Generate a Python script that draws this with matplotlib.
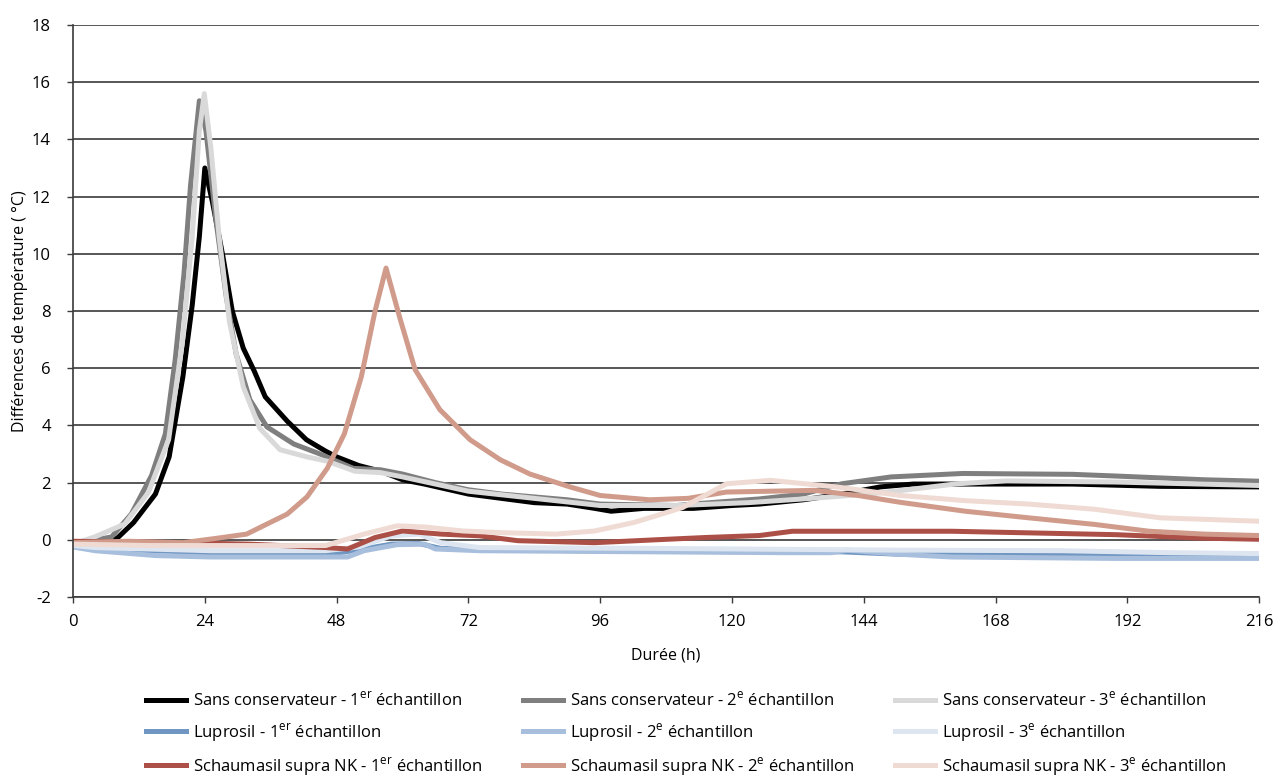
import matplotlib
matplotlib.use("Agg")
import matplotlib.pyplot as plt

# values (hours, degrees C)
t_s1 = [0, 4, 8, 11, 15, 17.5, 20, 21.7, 23, 24, 25.4, 27.3, 29, 31, 33, 35, 39, 42.5, 46, 48, 52, 56, 60, 64,
        72, 78, 84, 90, 95, 98, 104, 113, 120, 125, 133, 140, 147, 153, 168, 182, 198, 216]
v_s1 = [-0.1, -0.1, 0.05, 0.6, 1.6, 2.9, 5.7, 8.2, 10.6, 13.0, 11.8, 9.9, 8.0, 6.7, 5.9, 5.0, 4.15, 3.5, 3.1, 2.9,
        2.6, 2.4, 2.1, 1.95, 1.6, 1.45, 1.3, 1.25, 1.1, 1.0, 1.1, 1.1, 1.2, 1.25, 1.4, 1.6, 1.85, 1.95, 1.95, 1.95,
        1.87, 1.85]

t_s2 = [0, 4, 7, 10.6, 14.3, 16.8, 18.6, 20.2, 21.4, 23, 24.2, 26, 27.9, 29.7, 32.2, 35.3, 40.2, 45, 51, 56, 60,
        66, 72, 78, 84, 90, 96, 110, 114, 125, 133, 140, 149, 162, 182, 190, 206, 216]
v_s2 = [-0.1, 0.0, 0.1, 0.9, 2.25, 3.7, 6.3, 9.3, 12.4, 15.35, 14.3, 11.2, 8.5, 6.5, 4.9, 3.95, 3.35, 3.0, 2.5,
        2.45, 2.3, 2.0, 1.75, 1.6, 1.5, 1.4, 1.25, 1.2, 1.27, 1.43, 1.6, 1.96, 2.2, 2.32, 2.29, 2.23, 2.1, 2.05]

t_s3 = [0, 3.9, 9.4, 13.7, 17.4, 19.9, 21.7, 23, 23.9, 25.1, 26.6, 28.5, 31, 34, 37.7, 42.6, 46.3, 51.3, 56, 60,
        72, 84, 96, 110, 123, 133, 145, 151, 161, 170, 190, 216]
v_s3 = [-0.15, 0.1, 0.55, 1.65, 3.5, 6.9, 10.6, 14.3, 15.6, 13.7, 10.6, 7.6, 5.35, 3.9, 3.15, 2.9, 2.75, 2.4, 2.35,
        2.2, 1.7, 1.45, 1.2, 1.2, 1.3, 1.43, 1.6, 1.73, 1.96, 2.06, 2.02, 1.9]

t_l1 = [0, 10, 25, 45, 52, 58, 63, 67, 80, 100, 140, 150, 190, 216]
v_l1 = [-0.2, -0.35, -0.45, -0.55, -0.35, -0.15, -0.13, -0.3, -0.35, -0.4, -0.42, -0.5, -0.55, -0.6]

t_l2 = [0, 4, 15, 25, 40, 50, 53, 59, 64, 66, 74, 106, 130, 138, 141, 150, 160, 190, 216]
v_l2 = [-0.25, -0.38, -0.55, -0.6, -0.6, -0.6, -0.38, -0.17, -0.15, -0.32, -0.38, -0.42, -0.45, -0.45, -0.36,
        -0.5, -0.6, -0.65, -0.65]

t_l3 = [0, 4, 25, 46, 52, 58, 63, 67, 74, 106, 150, 180, 200, 216]
v_l3 = [-0.2, -0.27, -0.38, -0.38, -0.25, 0.14, 0.2, -0.1, -0.27, -0.3, -0.36, -0.38, -0.45, -0.48]

t_n1 = [0, 20, 32, 46, 50, 55, 60, 67, 74, 81, 95, 106, 115, 125, 131, 160, 190, 205, 216]
v_n1 = [-0.05, -0.1, -0.15, -0.27, -0.32, 0.08, 0.31, 0.2, 0.14, -0.03, -0.1, 0.0, 0.08, 0.15, 0.3, 0.3, 0.18,
        0.06, 0.02]

t_n2 = [0, 10, 20, 26, 31.6, 35.3, 39, 42.6, 46.3, 49.4, 52.5, 55, 57, 59.6, 62.3, 66.8, 72.3, 77.8, 83.2, 90.5,
        96, 105, 112, 119, 135, 143, 150.7, 162.5, 174, 186, 196, 206, 216]
v_n2 = [-0.1, -0.05, -0.1, 0.05, 0.2, 0.55, 0.9, 1.5, 2.5, 3.7, 5.7, 8.0, 9.5, 7.7, 5.95, 4.55, 3.5, 2.8, 2.3,
        1.85, 1.55, 1.4, 1.45, 1.67, 1.73, 1.55, 1.31, 1.0, 0.77, 0.54, 0.3, 0.2, 0.15]

t_n3 = [0, 14, 46, 53, 59, 64, 71, 78, 88, 95, 102, 106, 111, 119, 127, 139, 150.7, 162.5, 174, 186, 198, 216]
v_n3 = [-0.15, -0.2, -0.2, 0.2, 0.49, 0.45, 0.31, 0.25, 0.2, 0.31, 0.6, 0.83, 1.13, 1.96, 2.08, 1.85, 1.55, 1.37,
        1.25, 1.07, 0.77, 0.65]

sup1 = r"$^{\mathregular{er}}$"
sup2 = r"$^{\mathregular{e}}$"
labels = [
    "Sans conservateur - 1" + sup1 + " échantillon",
    "Sans conservateur - 2" + sup2 + " échantillon",
    "Sans conservateur - 3" + sup2 + " échantillon",
    "Luprosil - 1" + sup1 + " échantillon",
    "Luprosil - 2" + sup2 + " échantillon",
    "Luprosil - 3" + sup2 + " échantillon",
    "Schaumasil supra NK - 1" + sup1 + " échantillon",
    "Schaumasil supra NK - 2" + sup2 + " échantillon",
    "Schaumasil supra NK - 3" + sup2 + " échantillon",
]
colors = ["#000000", "#7f7f7f", "#d9d9d9",
          "#7096c2", "#a7bedd", "#dde5f1",
          "#ab4f47", "#d09b8a", "#efdbd3"]
series = [(t_s1, v_s1), (t_s2, v_s2), (t_s3, v_s3),
          (t_l1, v_l1), (t_l2, v_l2), (t_l3, v_l3),
          (t_n1, v_n1), (t_n2, v_n2), (t_n3, v_n3)]

plt.rcParams['font.family'] = ['Open Sans', 'DejaVu Sans']
plt.rcParams['axes.unicode_minus'] = False

fig = plt.figure(figsize=(12.75, 7.78), dpi=100)
ax = fig.add_axes([0.0573, 0.2326, 0.9302, 0.7353])

for y in range(-2, 19, 2):
    ax.axhline(y, color="#3a3a3a", lw=1.2, zorder=0)

lines = []
for (t, v), c, lab in zip(series, colors, labels):
    ln, = ax.plot(t, v, color=c, lw=3.6, label=lab, solid_joinstyle="round")
    lines.append(ln)

ax.set_xlim(0, 216)
ax.set_ylim(-2, 18)
ax.set_xticks(range(0, 217, 24))
ax.set_yticks(range(-2, 19, 2))
ax.tick_params(axis="both", labelsize=12, length=4, width=1, color="#3a3a3a")
ax.tick_params(axis="y", pad=12)
ax.tick_params(axis="x", pad=8)
for s in ["top", "right"]:
    ax.spines[s].set_visible(False)
for s in ["left", "bottom"]:
    ax.spines[s].set_color("#3a3a3a")
    ax.spines[s].set_linewidth(1.2)

ax.set_xlabel("Durée (h)", fontsize=11.5)
ax.set_ylabel("Différences de température ( °C)", fontsize=11.5)
ax.xaxis.set_label_coords(0.5, -0.088)
ax.yaxis.set_label_coords(-0.038, 0.5)

# legend filled row by row: S1 S2 S3 / L1 L2 L3 / N1 N2 N3
order = [0, 3, 6, 1, 4, 7, 2, 5, 8]
fig.legend([lines[i] for i in order], [labels[i] for i in order],
           ncol=3, loc="lower left", bbox_to_anchor=(0.1025, -0.019),
           frameon=False, handlelength=2.4, handletextpad=0.42, columnspacing=2.45,
           labelspacing=0.68, prop={"size": 12})

fig.savefig("out.png", dpi=100)
